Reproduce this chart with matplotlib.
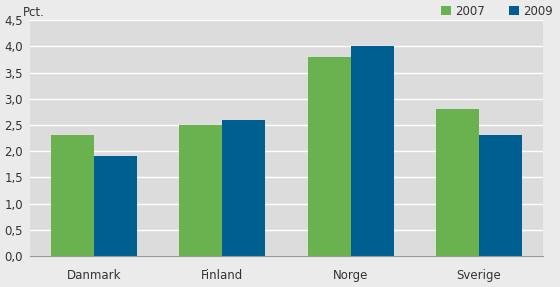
import matplotlib
matplotlib.use("Agg")
import matplotlib.pyplot as plt
import numpy as np

# data
countries = ["Danmark", "Finland", "Norge", "Sverige"]
v2007 = [2.3, 2.5, 3.8, 2.8]
v2009 = [1.9, 2.6, 4.0, 2.3]
yticks = [0.0, 0.5, 1.0, 1.5, 2.0, 2.5, 3.0, 3.5, 4.0, 4.5]

green = "#6ab150"
blue = "#005f91"

plt.rcParams["font.family"] = ["Liberation Sans Narrow", "DejaVu Sans"]

fig = plt.figure(figsize=(5.6, 2.87), dpi=100, facecolor="#ebebeb")
ax = fig.add_axes([0.0536, 0.108, 0.916, 0.822])
ax.set_facecolor("#dcdcdc")

x = np.arange(len(countries))
w = 0.335
ax.bar(x - w / 2, v2007, w, color=green, label="2007", zorder=3)
ax.bar(x + w / 2, v2009, w, color=blue, label="2009", zorder=3)

ax.set_xlim(-0.5, 3.5)
ax.set_ylim(0, 4.5)
ax.set_yticks(yticks)
ax.set_yticklabels([f"{t:.1f}".replace(".", ",") for t in yticks], fontsize=8.5, color="#333333")
ax.set_xticks(x)
ax.set_xticklabels(countries, fontsize=8.5, color="#333333")
ax.tick_params(length=0, pad=5)
ax.tick_params(axis="x", pad=9)
ax.grid(axis="y", color="white", linewidth=1.0, zorder=1)

for s in ["top", "right", "left"]:
    ax.spines[s].set_visible(False)
ax.spines["bottom"].set_color("#999999")
ax.spines["bottom"].set_zorder(4)

fig.text(0.041, 0.958, "Pct.", fontsize=8.5, color="#333333", ha="left", va="center")

leg = fig.legend(loc="upper right", bbox_to_anchor=(1.007, 1.02), ncol=2, frameon=False,
                 fontsize=8.5, handlelength=0.8, handleheight=0.8, columnspacing=2.05,
                 handletextpad=0.4)
for t in leg.get_texts():
    t.set_color("#333333")

fig.savefig("out.png", dpi=100, facecolor=fig.get_facecolor())
